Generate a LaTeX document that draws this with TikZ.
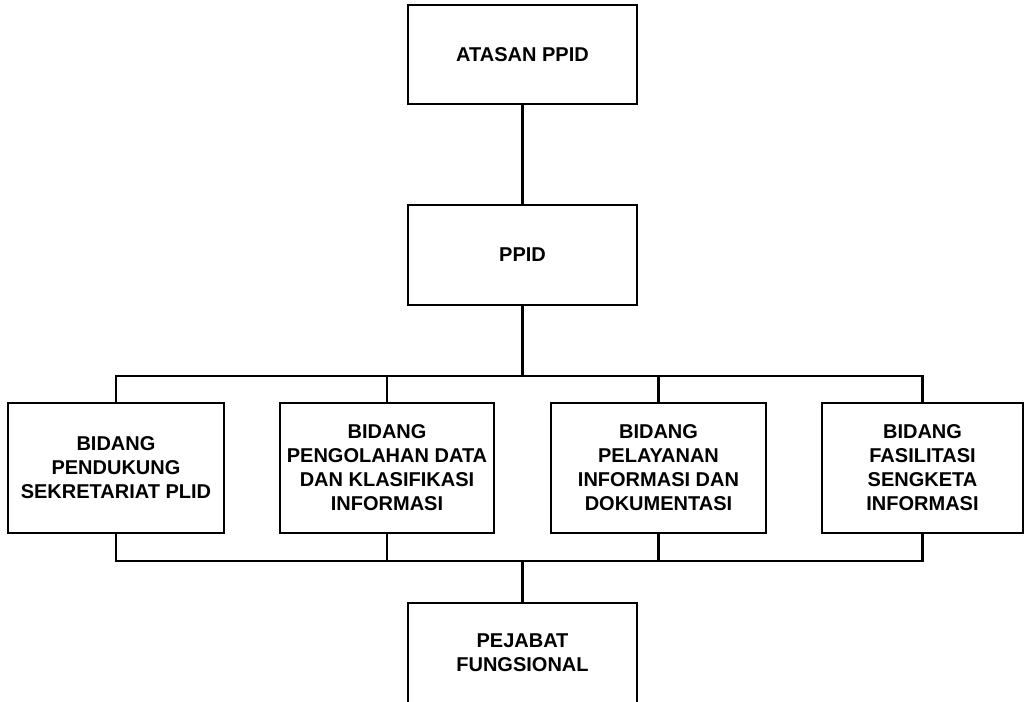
\documentclass[tikz,border=0pt]{standalone}
\usepackage{fontspec}
\setmainfont{Liberation Sans}
\usetikzlibrary{positioning,calc}

\tikzset{
  unitbox/.style={draw, line width=2.5pt, align=center, inner sep=0pt,
    font=\bfseries\fontsize{20}{24}\selectfont},
  wire/.style={line width=2.5pt}
}

\begin{document}
\begin{tikzpicture}[x=1pt, y=1pt]
  \useasboundingbox (0,0) rectangle (1024,-701);
  % boxes
  \node[unitbox, minimum width=229, minimum height=99] (atasan) at (522.5,-54.5) {ATASAN PPID};
  \node[unitbox, minimum width=229, minimum height=100] (ppid) at (522.5,-255) {PPID};
  \node[unitbox, minimum width=216, minimum height=130] (bidA) at (116,-468) {BIDANG\\PENDUKUNG\\SEKRETARIAT PLID};
  \node[unitbox, minimum width=214, minimum height=130] (bidB) at (387,-468) {BIDANG\\PENGOLAHAN DATA\\DAN KLASIFIKASI\\INFORMASI};
  \node[unitbox, minimum width=215, minimum height=130] (bidC) at (658.5,-468) {BIDANG\\PELAYANAN\\INFORMASI DAN\\DOKUMENTASI};
  \node[unitbox, minimum width=201, minimum height=130] (bidD) at (922.5,-468) {BIDANG\\FASILITASI\\SENGKETA\\INFORMASI};
  \node[unitbox, minimum width=229, minimum height=100] (pejabat) at (522.5,-653) {PEJABAT\\FUNGSIONAL};
  % buses
  \coordinate (bustop) at (522.5,-376);
  \coordinate (busbot) at (522.5,-561);
  \draw[wire] (atasan.south) -- (ppid.north);
  \draw[wire] (ppid.south) -- (bustop);
  \draw[wire] (bidA.north) -- (bidA.north |- bustop) -- (bidD.north |- bustop) -- (bidD.north);
  \draw[wire] (bidB.north) -- (bidB.north |- bustop);
  \draw[wire] (bidC.north) -- (bidC.north |- bustop);
  \draw[wire] (bidA.south) -- (bidA.south |- busbot) -- (bidD.south |- busbot) -- (bidD.south);
  \draw[wire] (bidB.south) -- (bidB.south |- busbot);
  \draw[wire] (bidC.south) -- (bidC.south |- busbot);
  \draw[wire] (busbot) -- (pejabat.north);
\end{tikzpicture}
\end{document}
